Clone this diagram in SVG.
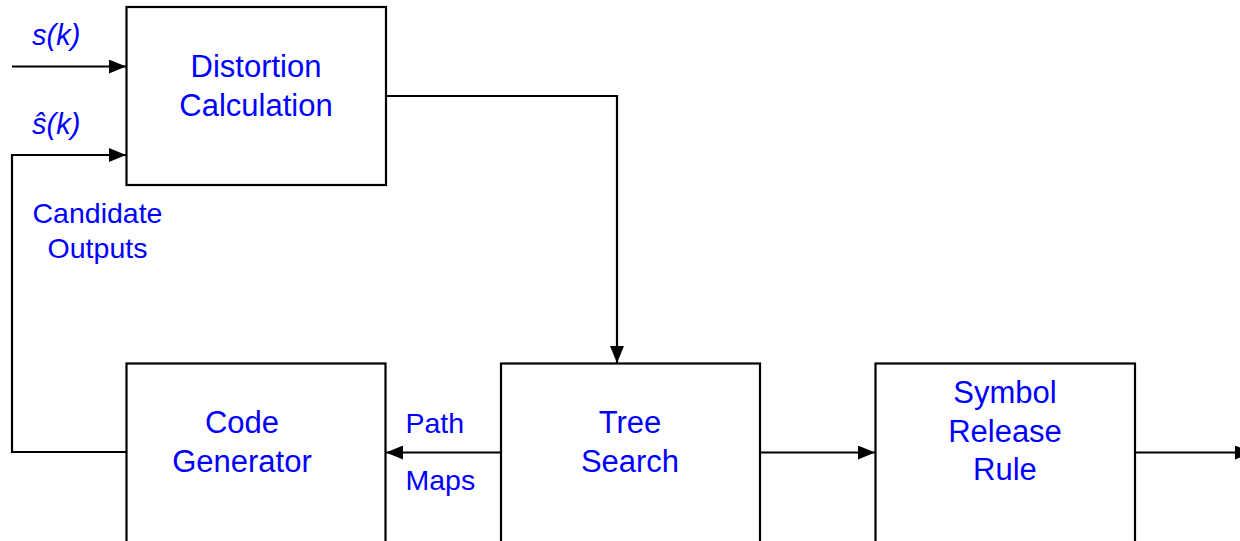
<svg xmlns="http://www.w3.org/2000/svg" width="1240" height="541" viewBox="0 0 1240 541">
  <defs>
    <style>
      .box { fill: #ffffff; stroke: #000000; stroke-width: 2.2; }
      .wire { fill: none; stroke: #000000; stroke-width: 2.2; }
      .lbl { font-family: "Liberation Sans", Arial, sans-serif; font-size: 31px; fill: #0000ff; }
      .mid { text-anchor: middle; }
      .ital { font-style: italic; font-size: 29px; }
      .small { font-size: 28.5px; }
    </style>
    <marker id="head" viewBox="0 0 17 14" refX="17" refY="7" markerWidth="17" markerHeight="14" markerUnits="userSpaceOnUse" orient="auto">
      <path d="M0,0 L17,7 L0,14 Z" fill="#000000"/>
    </marker>
  </defs>
  <rect width="1240" height="541" fill="#ffffff"/>

  <!-- connectors -->
  <g id="connectors">
    <line class="wire" x1="12" y1="66.5" x2="126" y2="66.5" marker-end="url(#head)"/>
    <polyline class="wire" points="126,452 12,452 12,155 126,155" marker-end="url(#head)"/>
    <polyline class="wire" points="386,96 617,96 617,363" marker-end="url(#head)"/>
    <line class="wire" x1="501" y1="452.5" x2="386" y2="452.5" marker-end="url(#head)"/>
    <line class="wire" x1="760" y1="452.5" x2="875" y2="452.5" marker-end="url(#head)"/>
    <line class="wire" x1="1135" y1="452.5" x2="1252" y2="452.5" marker-end="url(#head)"/>
  </g>

  <!-- edge labels -->
  <g id="labels">
    <text class="lbl ital" x="32" y="45">s(k)</text>
    <text class="lbl ital" x="32" y="134">ŝ(k)</text>
    <text class="lbl mid small" x="97.5" y="223">Candidate</text>
    <text class="lbl mid small" x="97.5" y="258">Outputs</text>
    <text class="lbl small" x="405.5" y="433">Path</text>
    <text class="lbl small" x="405.5" y="490">Maps</text>
  </g>

  <g id="distortion">
    <rect class="box" x="126.5" y="7" width="259.5" height="178"/>
    <text class="lbl mid" x="256" y="77">Distortion</text>
    <text class="lbl mid" x="256" y="116">Calculation</text>
  </g>

  <g id="codegen">
    <rect class="box" x="126.5" y="363.5" width="259" height="190"/>
    <text class="lbl mid" x="242" y="433">Code</text>
    <text class="lbl mid" x="242" y="472">Generator</text>
  </g>

  <g id="treesearch">
    <rect class="box" x="501" y="363.5" width="259" height="190"/>
    <text class="lbl mid" x="630" y="433">Tree</text>
    <text class="lbl mid" x="630" y="472">Search</text>
  </g>

  <g id="release">
    <rect class="box" x="875.5" y="363.5" width="259.5" height="190"/>
    <text class="lbl mid" x="1005" y="403">Symbol</text>
    <text class="lbl mid" x="1005" y="442">Release</text>
    <text class="lbl mid" x="1005" y="480">Rule</text>
  </g>
</svg>
